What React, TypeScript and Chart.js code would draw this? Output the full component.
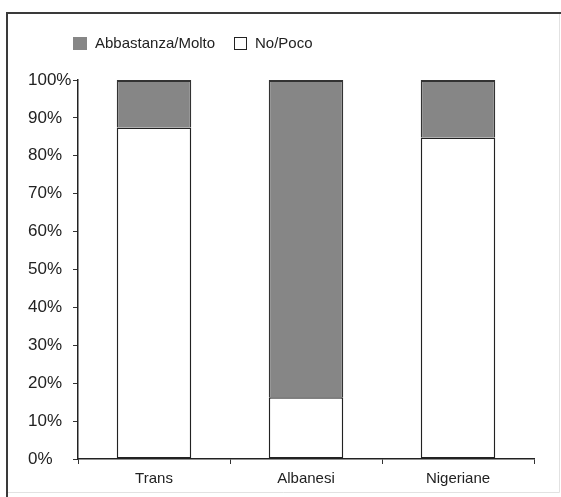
import React, { useEffect, useRef } from "react";
import { Chart, registerables } from "chart.js";

Chart.register(...registerables);

const categories = ["Trans", "Albanesi", "Nigeriane"];
const noPoco = [87.5, 16.3, 84.8];
const abbastanzaMolto = [12.5, 83.7, 15.2];
const seriesNames = ["Abbastanza/Molto", "No/Poco"];
const yTicks = [0, 10, 20, 30, 40, 50, 60, 70, 80, 90, 100];

const GRAY = "#868686";
const FONT = "'Liberation Sans', Arial, sans-serif";

const framePlugin = {
  id: "frameAndLegend",
  afterDraw(chart: any) {
    const ctx = chart.ctx;
    ctx.save();
    // frame
    ctx.strokeStyle = "#e2e2e2";
    ctx.lineWidth = 1;
    ctx.beginPath();
    ctx.moveTo(559.5, 13);
    ctx.lineTo(559.5, 492.5);
    ctx.lineTo(7, 492.5);
    ctx.stroke();
    ctx.strokeStyle = "#3a3a3a";
    ctx.lineWidth = 2;
    ctx.beginPath();
    ctx.moveTo(7, 497);
    ctx.lineTo(7, 13);
    ctx.lineTo(561, 13);
    ctx.stroke();
    // legend
    ctx.font = `15px ${FONT}`;
    ctx.textBaseline = "middle";
    ctx.fillStyle = GRAY;
    ctx.fillRect(73, 37, 14, 13);
    ctx.fillStyle = "#222";
    ctx.fillText(seriesNames[0], 95, 44);
    ctx.fillStyle = "#fff";
    ctx.fillRect(234, 37, 13, 13);
    ctx.strokeStyle = "#222";
    ctx.lineWidth = 1;
    ctx.strokeRect(234.5, 37.5, 12, 12);
    ctx.fillStyle = "#222";
    ctx.fillText(seriesNames[1], 255, 44);
    ctx.restore();
  },
};

export default function App() {
  const ref = useRef<HTMLCanvasElement>(null);
  useEffect(() => {
    if (!ref.current) return;
    const chart = new Chart(ref.current, {
      type: "bar",
      data: {
        labels: categories,
        datasets: [
          {
            label: seriesNames[1],
            data: noPoco,
            backgroundColor: "#ffffff",
            borderColor: "#222",
            borderWidth: 1.5,
            borderSkipped: false,
          },
          {
            label: seriesNames[0],
            data: abbastanzaMolto,
            backgroundColor: GRAY,
            borderColor: "#333",
            borderWidth: { top: 2, left: 1.5, right: 1.5, bottom: 0 },
            borderSkipped: false,
          },
        ],
      },
      options: {
        responsive: false,
        animation: false,
        layout: { padding: { top: 80, left: 28, right: 27, bottom: 0 } },
        plugins: { legend: { display: false }, tooltip: { enabled: false } },
        datasets: { bar: { categoryPercentage: 1, barPercentage: 0.49 } },
        scales: {
          x: {
            stacked: true,
            offset: true,
            grid: {
              offset: true,
              drawOnChartArea: false,
              drawTicks: true,
              tickLength: 5,
              color: "#333",
            },
            border: { display: true, color: "#222", width: 1.5 },
            ticks: {
              color: "#222",
              font: { family: FONT, size: 15 },
              padding: 6,
            },
            afterFit(scale: any) {
              scale.height = 38;
            },
          },
          y: {
            stacked: true,
            min: 0,
            max: 100,
            afterBuildTicks(scale: any) {
              scale.ticks = yTicks.map((v) => ({ value: v }));
            },
            grid: {
              drawOnChartArea: false,
              drawTicks: true,
              tickLength: 5,
              color: "#333",
            },
            border: { display: true, color: "#222", width: 1.5 },
            ticks: {
              color: "#222",
              font: { family: FONT, size: 17 },
              padding: 2,
              crossAlign: "far",
              callback: (v: any) => v + "%",
            },
            afterFit(scale: any) {
              scale.width = 50;
            },
          },
        },
      },
      plugins: [framePlugin],
    });
    return () => chart.destroy();
  }, []);
  return (
    <div style={{ position: "absolute", left: 0, top: 0, width: 561, height: 497, background: "#fff" }}>
      <canvas ref={ref} width={561} height={497} />
    </div>
  );
}
